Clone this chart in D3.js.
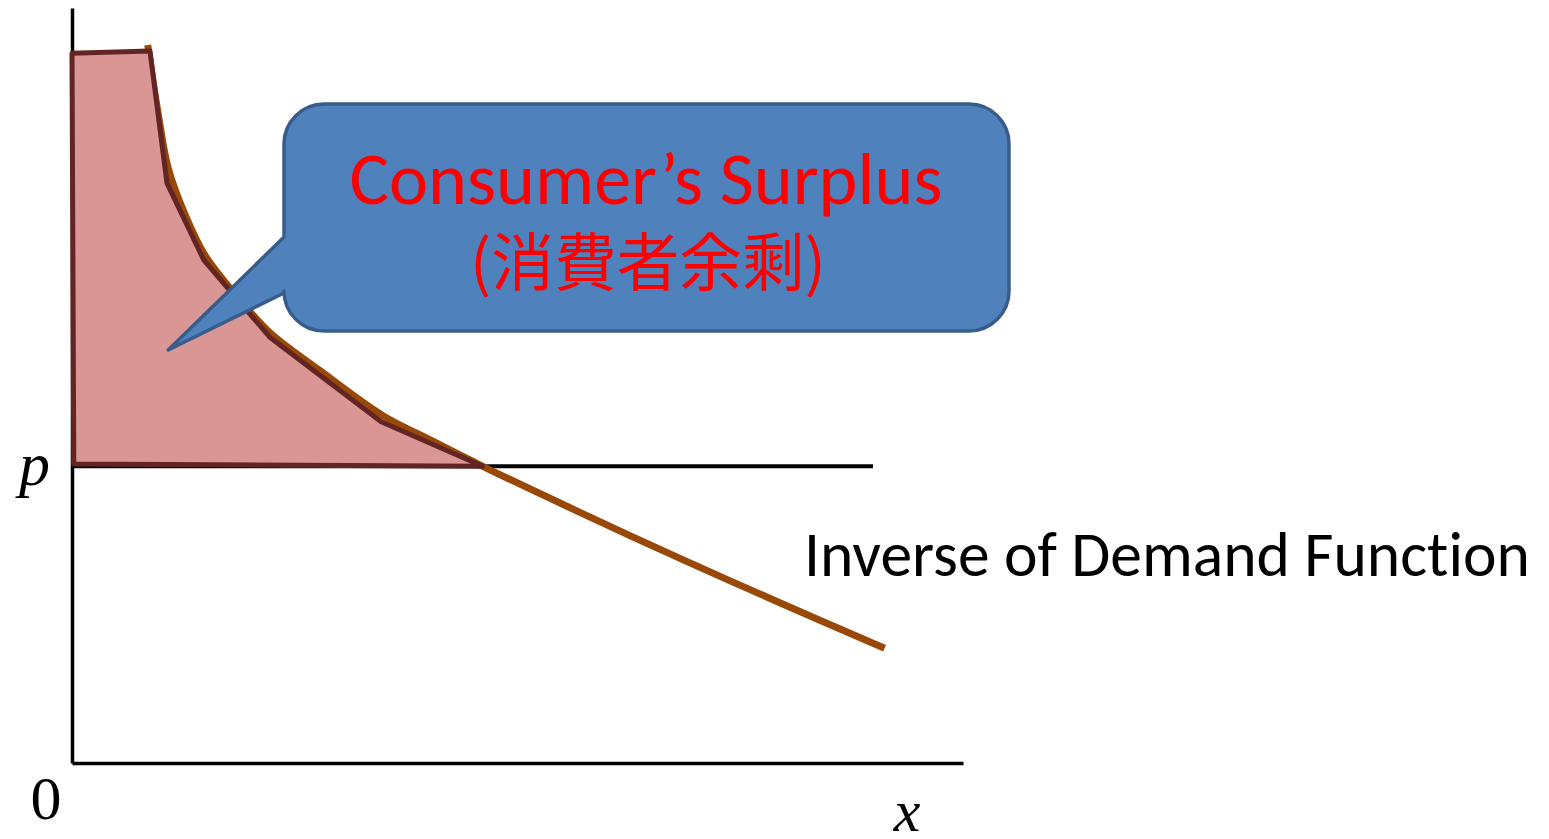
<!DOCTYPE html>
<html><head><meta charset="utf-8">
<script src="https://cdn.jsdelivr.net/npm/d3@7"></script>
<style>html,body{margin:0;padding:0;background:#fff;overflow:hidden}text{font-variant-ligatures:none}</style>
</head><body>
<svg id="chart" width="1549" height="839"></svg>
<script>
// ---- data (arbitrary units, 0..100) ----
const demandX = [8.5, 9.7, 10.8, 12.7, 14.9, 18.3, 22.2, 27.8, 34.9, 40.2, 46.1, 57.0, 68.6, 79.5, 91.2];
const demandY = [95.1, 85.8, 78.8, 72.6, 67.3, 62.1, 57.0, 52.0, 46.0, 42.8, 39.3, 33.2, 26.9, 21.2, 15.2];
const surplusX = [0, 8.75, 10.66, 14.8, 22.2, 34.7, 46.1, 0.2];
const surplusY = [94.0, 94.3, 76.8, 66.6, 56.4, 45.2, 39.3, 39.6];
const priceP = 39.3;
const priceLineEnd = 89.9;
const calloutTip = [10.8, 54.7];
const labels = {p: "p", origin: "0", x: "x", curve: "Inverse of Demand Function",
  title1: "Consumer\u2019s Surplus", title2: "(消費者余剩)"};

const svg = d3.select("#chart");
const x = d3.scaleLinear().domain([0, 100]).range([72, 963]);
const y = d3.scaleLinear().domain([0, 100]).range([763, 8]);

// axes (no ticks)
const gx = svg.append("g").attr("transform", `translate(0,${y(0)})`)
  .call(d3.axisBottom(x).tickValues([]).tickSizeOuter(0));
const gy = svg.append("g").attr("transform", `translate(${x(0)},0)`)
  .call(d3.axisLeft(y).tickValues([priceP]).tickSize(0).tickPadding(22).tickFormat(() => labels.p));
[gx, gy].forEach(g => g.select(".domain").attr("stroke", "#000").attr("stroke-width", 3.5));
gy.selectAll(".tick text").attr("font-family", "'Liberation Serif','Times New Roman',serif")
  .attr("font-style", "italic").attr("font-size", 62).attr("fill", "#000").attr("dy", "0.3em");

// price line
svg.append("line").attr("x1", x(0)).attr("x2", x(priceLineEnd))
  .attr("y1", y(priceP)).attr("y2", y(priceP)).attr("stroke", "#000").attr("stroke-width", 4);

// demand curve
const demand = demandX.map((d, i) => [d, demandY[i]]);
svg.append("path").datum(demand)
  .attr("d", d3.line().x(d => x(d[0])).y(d => y(d[1])).curve(d3.curveCatmullRom.alpha(0.5)))
  .attr("fill", "none").attr("stroke", "#984807").attr("stroke-width", 7);

// consumer surplus polygon
const surplus = surplusX.map((d, i) => [x(d), y(surplusY[i])]);
svg.append("path").attr("d", "M" + surplus.join("L") + "Z")
  .attr("fill", "#D99694").attr("stroke", "#632523").attr("stroke-width", 5)
  .attr("stroke-linejoin", "round");

// callout box (rounded rectangle with a pointer)
const bx0 = 284, bx1 = 1009, by0 = 104, by1 = 331, r = 40;
const tx = x(calloutTip[0]), ty = y(calloutTip[1]);
const p = d3.path();
p.moveTo(bx0 + r, by0);
p.lineTo(bx1 - r, by0); p.arcTo(bx1, by0, bx1, by0 + r, r);
p.lineTo(bx1, by1 - r); p.arcTo(bx1, by1, bx1 - r, by1, r);
p.lineTo(bx0 + r, by1); p.arcTo(bx0, by1, bx0, by1 - r, r);
p.lineTo(bx0, 293); p.lineTo(tx, ty); p.lineTo(bx0, 237);
p.lineTo(bx0, by0 + r); p.arcTo(bx0, by0, bx0 + r, by0, r);
p.closePath();
svg.append("path").attr("d", p.toString()).attr("fill", "#4F81BD")
  .attr("stroke", "#385D8A").attr("stroke-width", 3.5).attr("stroke-linejoin", "round");

const sans = "Carlito, Lato, 'Open Sans', sans-serif";
function fitText(sel, w) {
  const len = sel.node().getComputedTextLength();
  const fs = +sel.attr("font-size");
  sel.attr("font-size", fs * w / len);
}
const t1 = svg.append("text").attr("x", 646).attr("y", 204).attr("text-anchor", "middle")
  .attr("font-family", sans).attr("font-size", 66).attr("fill", "#FF0000").text(labels.title1);
fitText(t1, 593);
const t2 = svg.append("text").attr("x", 648).attr("y", 285).attr("text-anchor", "middle")
  .attr("font-family", "'Noto Sans CJK JP', 'Noto Sans CJK SC', sans-serif").attr("font-size", 56)
  .attr("fill", "#FF0000").text(labels.title2);
fitText(t2, 356);

const t3 = svg.append("text").attr("x", 804).attr("y", 576).attr("font-family", sans)
  .attr("font-size", 56).attr("fill", "#000").text(labels.curve);
fitText(t3, 726);

const serif = "'Liberation Serif','Times New Roman',serif";
svg.append("text").attr("x", x(0) - 26).attr("y", 819).attr("text-anchor", "middle")
  .attr("font-family", serif).attr("font-size", 62).attr("fill", "#000").text(labels.origin);
svg.append("text").attr("x", 907).attr("y", 831).attr("text-anchor", "middle")
  .attr("font-family", serif).attr("font-style", "italic").attr("font-size", 60).attr("fill", "#000").text(labels.x);
</script>
</body></html>
